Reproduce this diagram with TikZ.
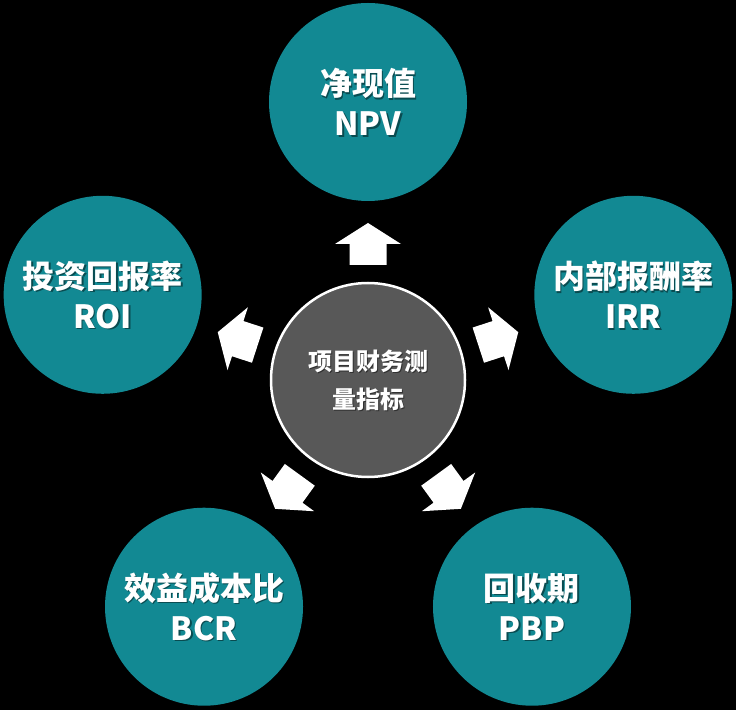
\documentclass[tikz,border=0pt]{standalone}
\usepackage{fontspec}
\setmainfont{Noto Sans CJK SC}
\definecolor{tealc}{RGB}{18,137,147}
\definecolor{grayc}{RGB}{88,88,88}
\tikzset{
  outer/.style={circle, fill=tealc, minimum size=198pt, inner sep=0pt},
  inner/.style={circle, fill=grayc, draw=white, line width=2.5pt, minimum size=194pt, inner sep=0pt},
  bigtxt/.style={text=white, align=center, font=\bfseries\fontsize{32}{40}\selectfont},
  smalltxt/.style={text=white, align=center, font=\bfseries\fontsize{24}{38}\selectfont},
  shadowtxt/.style={text=black, opacity=0.45},
  housearrow/.style={fill=white, draw=none}
}
\begin{document}
\begin{tikzpicture}[x=1pt,y=1pt]
\useasboundingbox (0,0) rectangle (736,710);
\fill[black] (0,0) rectangle (736,710);
% pentagon centre (368,329), radius 279
\node[outer] (npv) at (368,608) {};
\node[outer] (irr) at ({368+279*cos(18)},{329+279*sin(18)}) {};
\node[outer] (pbp) at ({368+279*cos(-54)},{329+279*sin(-54)}) {};
\node[outer] (bcr) at ({368+279*cos(-126)},{329+279*sin(-126)}) {};
\node[outer] (roi) at ({368+279*cos(162)},{329+279*sin(162)}) {};
\node[inner] (ctr) at (368,330) {};
% texts with shadows
\foreach \n/\t in {npv/{净现值\\NPV}, irr/{内部报酬率\\IRR}, pbp/{回收期\\PBP}, bcr/{效益成本比\\BCR}, roi/{投资回报率\\ROI}}{
  \node[bigtxt, shadowtxt] at ([shift={(1.5,-1.5)}]\n.center) {\t};
  \node[bigtxt] (\n t) at (\n.center) {\t};
}
\node[smalltxt, shadowtxt] at ([shift={(1.5,-1.5)}]ctr.center) {项目财务测\\量指标};
\node[smalltxt] (ctrt) at (ctr.center) {项目财务测\\量指标};
% arrows
\foreach \a in {90,18,-54,-126,162}{
  \begin{scope}[shift={({368+137*cos(\a)},{329+137*sin(\a)})}, rotate=\a]
    \fill[housearrow] (-21,-18.5) -- (0,-18.5) -- (0,-33) -- (21,0) -- (0,33) -- (0,18.5) -- (-21,18.5) -- cycle;
  \end{scope}
}
\end{tikzpicture}
\end{document}
